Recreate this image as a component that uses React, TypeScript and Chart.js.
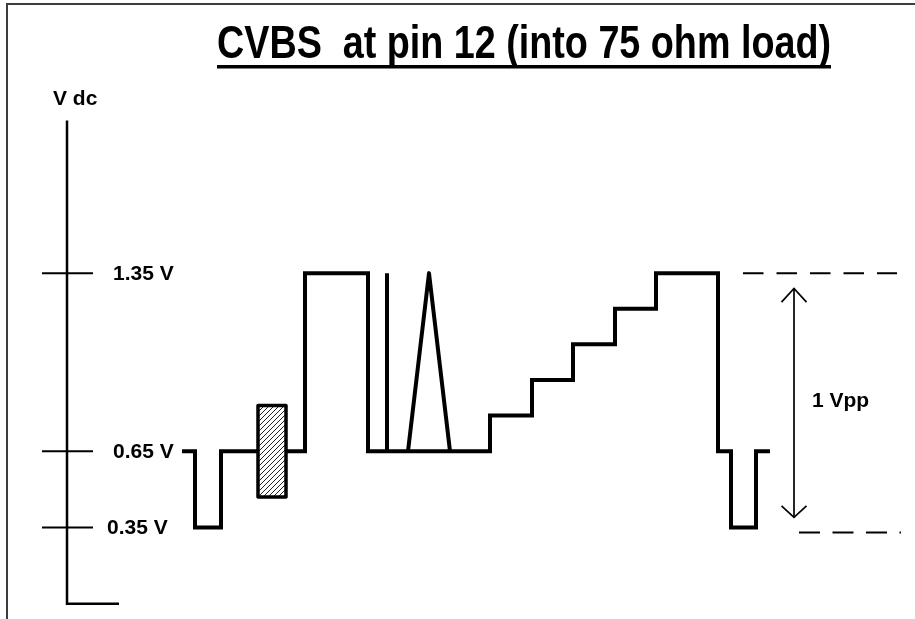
import React, { useEffect, useRef } from "react";
import { Chart, registerables } from "chart.js";

Chart.register(...registerables);

// ---- Data (time in arbitrary units with the V axis at t = 0, voltage in V dc) ----
const TITLE = "CVBS  at pin 12 (into 75 ohm load)";
const AXIS_LABEL = "V dc";

// Main CVBS waveform (sync, back porch, white bar, spike, staircase, front porch, next sync)
const waveT = [11.5, 12.8, 12.8, 15.4, 15.4, 23.8, 23.8, 30.1, 30.1, 32.0, 32.0, 32.0, 42.3, 42.3, 46.5, 46.5, 50.6, 50.6, 54.8, 54.8, 58.9, 58.9, 65.1, 65.1, 66.4, 66.4, 68.9, 68.9, 70.3];
const waveV = [0.65, 0.65, 0.35, 0.35, 0.65, 0.65, 1.35, 1.35, 0.65, 0.65, 1.35, 0.65, 0.65, 0.79, 0.79, 0.93, 0.93, 1.07, 1.07, 1.21, 1.21, 1.35, 1.35, 0.65, 0.65, 0.35, 0.35, 0.65, 0.65];

// Triangle pulse sitting on the 0.65 V level
const triT = [34.1, 36.2, 38.3];
const triV = [0.65, 1.35, 0.65];

// Colour burst (hatched box)
const burstT = [19.1, 21.9];
const burstV = [0.47, 0.83];

// Vertical axis and ticks
const axisTop = 1.95;
const axisBottom = 0.05;
const axisFootEnd = 5.2;
const tickValues = [1.35, 0.65, 0.35];
const tickLabels = ["1.35 V", "0.65 V", "0.35 V"];
const tickSpan = [-2.5, 2.6];

// Reference dashed levels and the 1 Vpp arrow
const refHighT = [67.6, 83.0];
const refHighV = 1.35;
const refLowT = [73.2, 83.4];
const refLowV = 0.33;
const arrowT = 72.7;
const arrowV = [0.39, 1.29];
const arrowHeadV = [0.435, 1.236];
const arrowHeadHalf = 1.25;
const arrowLabel = "1 Vpp";

// ---- Layout constants ----
const W = 915;
const H = 619;
const X_MIN = -6.7;
const X_MAX = 84.8;
const Y_MIN = -0.01;
const Y_MAX = 2.424;
const tickLabelDx = [46, 46, 40];
const FONT = "'Liberation Sans', Arial, Helvetica, sans-serif";

function pts(xs: number[], ys: number[]) {
  return xs.map((x, i) => ({ x, y: ys[i] }));
}

function makeHatch(): CanvasPattern | string {
  const c = document.createElement("canvas");
  const s = 5;
  c.width = s;
  c.height = s;
  const g = c.getContext("2d");
  if (!g) return "#fff";
  g.fillStyle = "#fff";
  g.fillRect(0, 0, s, s);
  g.strokeStyle = "#222";
  g.lineWidth = 1;
  g.beginPath();
  g.moveTo(0, s);
  g.lineTo(s, 0);
  g.moveTo(-1, 1);
  g.lineTo(1, -1);
  g.moveTo(s - 1, s + 1);
  g.lineTo(s + 1, s - 1);
  g.stroke();
  const p = g.createPattern(c, "repeat");
  return p || "#fff";
}

const decorPlugin = {
  id: "decor",
  beforeDraw(chart: any) {
    const ctx = chart.ctx as CanvasRenderingContext2D;
    ctx.save();
    ctx.fillStyle = "#fff";
    ctx.fillRect(0, 0, W, H);
    ctx.strokeStyle = "#3c3c3c";
    ctx.lineWidth = 2;
    ctx.beginPath();
    ctx.moveTo(W, 4);
    ctx.lineTo(7, 4);
    ctx.lineTo(7, H);
    ctx.stroke();
    ctx.restore();
  },
  afterDraw(chart: any) {
    const ctx = chart.ctx as CanvasRenderingContext2D;
    const xs = chart.scales.x;
    const ys = chart.scales.y;
    ctx.save();
    ctx.fillStyle = "#000";

    // Title (condensed bold, underlined)
    ctx.font = `bold 47px ${FONT}`;
    ctx.textBaseline = "alphabetic";
    ctx.textAlign = "left";
    const tw = ctx.measureText(TITLE).width;
    const left = 217;
    const target = 614;
    ctx.save();
    ctx.translate(left, 58);
    ctx.scale(target / tw, 1);
    ctx.fillText(TITLE, 0, 0);
    ctx.restore();
    ctx.fillRect(left, 65, target, 3.5);

    // Axis label
    ctx.font = `bold 21px ${FONT}`;
    ctx.textBaseline = "middle";
    ctx.fillText(AXIS_LABEL, xs.getPixelForValue(-1.4), ys.getPixelForValue(axisTop) - 21);

    // Tick labels
    const ax = xs.getPixelForValue(0);
    tickValues.forEach((v, i) => {
      ctx.fillText(tickLabels[i], ax + tickLabelDx[i], ys.getPixelForValue(v) + 1);
    });

    // 1 Vpp label
    ctx.fillText(
      arrowLabel,
      xs.getPixelForValue(arrowT) + 18,
      ys.getPixelForValue((arrowV[0] + arrowV[1]) / 2) - 2
    );
    ctx.restore();
  },
};

export default function App() {
  const ref = useRef<HTMLCanvasElement | null>(null);

  useEffect(() => {
    if (!ref.current) return;
    const black = "#000";
    const line = (data: any[], width: number, extra: any = {}) => ({
      data,
      borderColor: black,
      borderWidth: width,
      pointRadius: 0,
      fill: false,
      tension: 0,
      borderJoinStyle: "miter",
      borderCapStyle: "butt",
      ...extra,
    });

    const burstRect = [
      { x: burstT[0], y: burstV[0] },
      { x: burstT[1], y: burstV[0] },
      { x: burstT[1], y: burstV[1] },
      { x: burstT[0], y: burstV[1] },
      { x: burstT[0], y: burstV[0] },
    ];

    const datasets: any[] = [
      line(burstRect, 3.5, {
        fill: "shape",
        backgroundColor: makeHatch(),
        borderJoinStyle: "round",
      }),
      line(pts(waveT, waveV), 4),
      line(pts(triT, triV), 4, { borderJoinStyle: "round" }),
      line(
        [
          { x: 0, y: axisTop },
          { x: 0, y: axisBottom },
          { x: axisFootEnd, y: axisBottom },
        ],
        2.5
      ),
      ...tickValues.map((v) =>
        line(
          [
            { x: tickSpan[0], y: v },
            { x: tickSpan[1], y: v },
          ],
          2
        )
      ),
      line(
        [
          { x: refHighT[0], y: refHighV },
          { x: refHighT[1], y: refHighV },
        ],
        2,
        { borderDash: [20.5, 13] }
      ),
      line(
        [
          { x: refLowT[0], y: refLowV },
          { x: refLowT[1], y: refLowV },
        ],
        2,
        { borderDash: [21, 12.5] }
      ),
      line(
        [
          { x: arrowT, y: arrowV[0] },
          { x: arrowT, y: arrowV[1] },
        ],
        1.7
      ),
      line(
        [
          { x: arrowT - arrowHeadHalf, y: arrowHeadV[1] },
          { x: arrowT, y: arrowV[1] },
          { x: arrowT + arrowHeadHalf, y: arrowHeadV[1] },
        ],
        1.7
      ),
      line(
        [
          { x: arrowT - arrowHeadHalf, y: arrowHeadV[0] },
          { x: arrowT, y: arrowV[0] },
          { x: arrowT + arrowHeadHalf, y: arrowHeadV[0] },
        ],
        1.7
      ),
    ];

    const chart = new Chart(ref.current, {
      type: "line",
      data: { datasets },
      options: {
        animation: false,
        responsive: false,
        maintainAspectRatio: false,
        events: [],
        layout: { padding: 0 },
        plugins: {
          legend: { display: false },
          tooltip: { enabled: false },
          title: { display: false },
        },
        scales: {
          x: { type: "linear", min: X_MIN, max: X_MAX, display: false },
          y: { type: "linear", min: Y_MIN, max: Y_MAX, display: false },
        },
      },
      plugins: [decorPlugin],
    } as any);

    return () => chart.destroy();
  }, []);

  return (
    <div style={{ position: "fixed", left: 0, top: 0, width: W, height: H, background: "#fff" }}>
      <canvas ref={ref} width={W} height={H} style={{ display: "block", width: W, height: H }} />
    </div>
  );
}
